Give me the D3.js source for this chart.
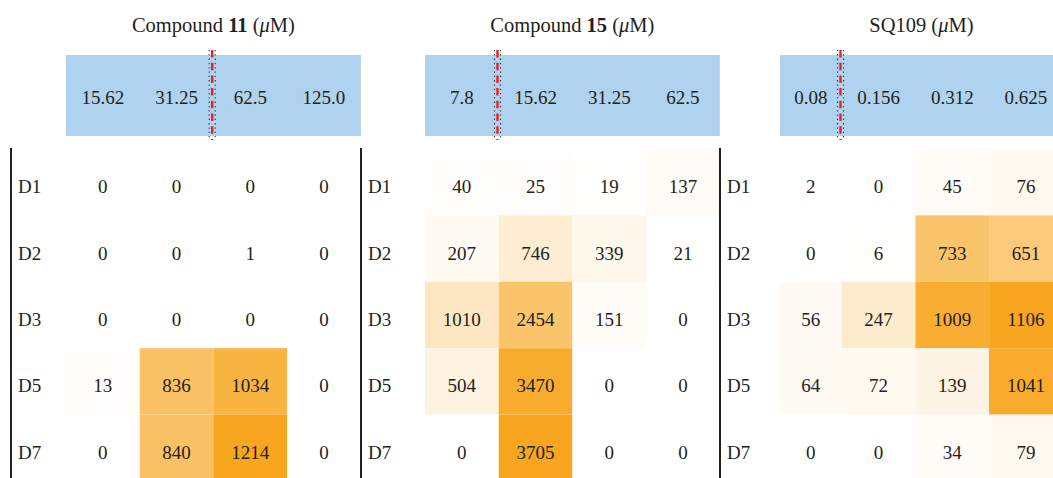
<!DOCTYPE html>
<html>
<head>
<meta charset="utf-8">
<script src="https://cdn.jsdelivr.net/npm/d3@7.9.0/dist/d3.min.js"></script>
<style>
  html, body { margin: 0; padding: 0; background: #fff; }
  svg { display: block; font-family: 'Liberation Serif', 'DejaVu Serif', serif; }
</style>
</head>
<body>
<svg id="chart" width="1053" height="478"></svg>
<script>
const rowLabels = ['D1', 'D2', 'D3', 'D5', 'D7'];

const compound11Doses = ['15.62', '31.25', '62.5', '125.0'];
const compound11Values = [
  [0, 0, 0, 0],
  [0, 0, 1, 0],
  [0, 0, 0, 0],
  [13, 836, 1034, 0],
  [0, 840, 1214, 0],
];

const compound15Doses = ['7.8', '15.62', '31.25', '62.5'];
const compound15Values = [
  [40, 25, 19, 137],
  [207, 746, 339, 21],
  [1010, 2454, 151, 0],
  [504, 3470, 0, 0],
  [0, 3705, 0, 0],
];

const sq109Doses = ['0.08', '0.156', '0.312', '0.625'];
const sq109Values = [
  [2, 0, 45, 76],
  [0, 6, 733, 651],
  [56, 247, 1009, 1106],
  [64, 72, 139, 1041],
  [0, 0, 34, 79],
];

// title pieces: [text, style]
const titles = [
  [['Compound ', ''], ['11', 'bold'], [' (', ''], ['\u03bc', 'italic'], ['M)', '']],
  [['Compound ', ''], ['15', 'bold'], [' (', ''], ['\u03bc', 'italic'], ['M)', '']],
  [['SQ109 (', ''], ['\u03bc', 'italic'], ['M)', '']],
];

// index of the first dose to the right of the dashed cut-off line
const cutoffIndex = [2, 1, 1];

const TEXT = '#231f20';
const HEADER_BLUE = '#afd3ee';
const HOT = '#f8a61f';
const COL_W = 73.7;

const panels = [
  { doses: compound11Doses, values: compound11Values, line: 11, left: 66, headLeft: 66 },
  { doses: compound15Doses, values: compound15Values, line: 361, left: 425, headLeft: 425 },
  { doses: sq109Doses, values: sq109Values, line: 720, left: 768, headLeft: 780 },
];

const svg = d3.select('#chart');

const y = d3.scaleBand().domain(rowLabels).range([149, 149 + 66.4 * rowLabels.length]);

panels.forEach((panel, i) => {
  const x = d3.scaleBand().domain(panel.doses).range([panel.left, panel.left + COL_W * panel.doses.length]);
  const right = panel.left + COL_W * panel.doses.length;
  const color = d3.scaleLinear()
    .domain([0, d3.max(panel.values.flat())])
    .range(['#ffffff', HOT])
    .interpolate(d3.interpolateRgb);
  const g = svg.append('g');

  // title
  const title = g.append('text')
    .attr('x', (panel.headLeft + right) / 2)
    .attr('y', 32)
    .attr('text-anchor', 'middle')
    .attr('font-size', 20.5)
    .attr('fill', TEXT);
  title.selectAll('tspan')
    .data(titles[i])
    .join('tspan')
    .attr('font-weight', (d) => (d[1] === 'bold' ? 'bold' : null))
    .attr('font-style', (d) => (d[1] === 'italic' ? 'italic' : null))
    .text((d) => d[0]);

  // dose header
  g.append('rect')
    .attr('x', panel.headLeft)
    .attr('y', 55)
    .attr('width', right - panel.headLeft)
    .attr('height', 81)
    .attr('fill', HEADER_BLUE);

  const cellLeft = (dose) => Math.max(x(dose), panel.headLeft);
  const cellMid = (dose) => (cellLeft(dose) + x(dose) + x.bandwidth()) / 2;

  g.selectAll('text.dose')
    .data(panel.doses)
    .join('text')
    .attr('class', 'dose')
    .attr('x', cellMid)
    .attr('y', 104)
    .attr('text-anchor', 'middle')
    .attr('font-size', 19)
    .attr('fill', TEXT)
    .text((d) => d);

  // cut-off line
  const cx = x(panel.doses[cutoffIndex[i]]) - 1.2;
  [-3, 3].forEach((dx) => {
    g.append('line')
      .attr('x1', cx + dx).attr('x2', cx + dx)
      .attr('y1', 50).attr('y2', 140)
      .attr('stroke', '#333')
      .attr('stroke-width', 1.1)
      .attr('stroke-dasharray', '1.3,3');
  });
  g.append('line')
    .attr('x1', cx).attr('x2', cx)
    .attr('y1', 50).attr('y2', 140)
    .attr('stroke', '#e8202a')
    .attr('stroke-width', 2.4)
    .attr('stroke-dasharray', '7.5,5.2');

  // cells
  const cells = panel.values.flatMap((row, r) =>
    row.map((v, c) => ({ row: rowLabels[r], dose: panel.doses[c], value: v })));

  g.selectAll('rect.cell')
    .data(cells)
    .join('rect')
    .attr('class', 'cell')
    .attr('x', (d) => cellLeft(d.dose))
    .attr('y', (d) => y(d.row))
    .attr('width', (d) => x(d.dose) + x.bandwidth() - cellLeft(d.dose))
    .attr('height', y.bandwidth())
    .attr('fill', (d) => color(d.value));

  g.selectAll('text.val')
    .data(cells)
    .join('text')
    .attr('class', 'val')
    .attr('x', (d) => cellMid(d.dose))
    .attr('y', (d) => y(d.row) + y.bandwidth() / 2 + 11)
    .attr('text-anchor', 'middle')
    .attr('font-size', 19)
    .attr('fill', TEXT)
    .text((d) => d.value);

  // row labels
  g.selectAll('text.row')
    .data(rowLabels)
    .join('text')
    .attr('class', 'row')
    .attr('x', panel.line + 7)
    .attr('y', (d) => y(d) + y.bandwidth() / 2 + 11)
    .attr('font-size', 19)
    .attr('fill', TEXT)
    .text((d) => d);

  // vertical rule
  g.append('line')
    .attr('x1', panel.line).attr('x2', panel.line)
    .attr('y1', 148).attr('y2', 478)
    .attr('stroke', TEXT)
    .attr('stroke-width', 2);
});
</script>
</body>
</html>
